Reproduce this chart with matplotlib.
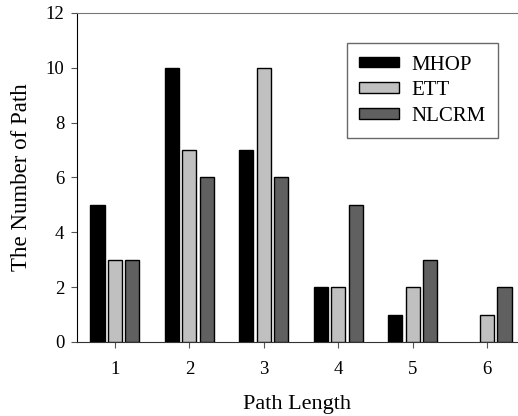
import matplotlib
matplotlib.use("Agg")
import matplotlib.pyplot as plt
import numpy as np

path_lengths = [1, 2, 3, 4, 5, 6]
mhop = [5, 10, 7, 2, 1, 0]
ett = [3, 7, 10, 2, 2, 1]
nlcrm = [3, 6, 6, 5, 3, 2]
series_names = ["MHOP", "ETT", "NLCRM"]

COLORS = ["#000000", "#c0c0c0", "#606060"]
BAR_W = 0.19
OFFSET = 0.235

def main():
    plt.rcParams["font.family"] = ["Liberation Serif", "DejaVu Serif"]
    fig = plt.figure(figsize=(5.18, 4.16), dpi=100)
    ax = fig.add_axes([0.1486, 0.178, 0.849, 0.791])

    x = np.array(path_lengths, dtype=float)
    for i, (vals, name) in enumerate(zip([mhop, ett, nlcrm], series_names)):
        bars = ax.bar(x + (i - 1) * OFFSET, vals, width=BAR_W, color=COLORS[i],
                      edgecolor="black", linewidth=1.0, label=name, zorder=3)
        # empty bars should not leave a stub on the axis
        for b, v in zip(bars, vals):
            if v == 0:
                b.set_linewidth(0)

    ax.set_xlim(0.49, 6.4)
    ax.set_ylim(0, 12)
    ax.set_xticks(path_lengths)
    ax.set_yticks(range(0, 13, 2))
    ax.tick_params(direction="out", length=4, labelsize=13.5, colors="#555555",
                   labelcolor="black")
    ax.tick_params(axis="y", pad=5)
    ax.tick_params(axis="x", pad=10)

    ax.spines["right"].set_visible(False)
    ax.spines["top"].set_color("#777777")
    ax.spines["left"].set_color("black")
    ax.spines["bottom"].set_color("#333333")

    ax.set_xlabel("Path Length", fontsize=16, labelpad=12)
    ax.set_ylabel("The Number of Path", fontsize=16.5, labelpad=10)

    leg = ax.legend(loc="upper right", bbox_to_anchor=(498 / 518, 1 - 43 / 416),
                    bbox_transform=fig.transFigure, fontsize=15, frameon=True,
                    fancybox=False, edgecolor="#444444", handlelength=1.9,
                    handleheight=0.4, borderpad=0.6, labelspacing=0.32,
                    handletextpad=0.6, borderaxespad=0)
    leg.get_frame().set_linewidth(1.0)

    fig.savefig("out.png", dpi=100)
    plt.close(fig)

if __name__ == "__main__":
    main()
